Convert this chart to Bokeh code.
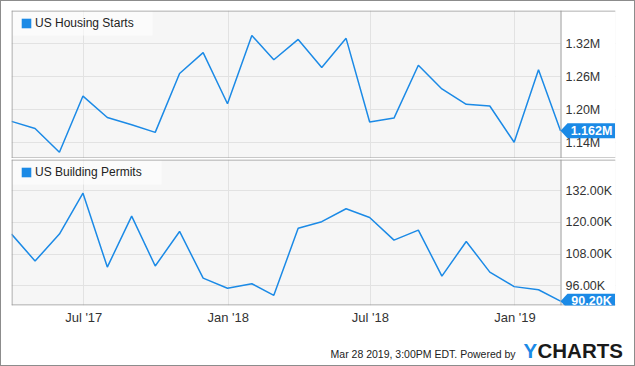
import datetime as dt
from bokeh.plotting import figure
from bokeh.layouts import column
from bokeh.models import (Range1d, FixedTicker, Grid, DatetimeTickFormatter, PrintfTickFormatter,
                          Legend, LegendItem, PolyAnnotation, BoxAnnotation, Span, Label)
from bokeh.embed import file_html
from bokeh.resources import INLINE

# ---------------- data ----------------
months = ["2017-03-31", "2017-04-30", "2017-05-31", "2017-06-30", "2017-07-31", "2017-08-31",
          "2017-09-30", "2017-10-31", "2017-11-30", "2017-12-31", "2018-01-31", "2018-02-28",
          "2018-03-31", "2018-04-30", "2018-05-31", "2018-06-30", "2018-07-31", "2018-08-31",
          "2018-09-30", "2018-10-31", "2018-11-30", "2018-12-31", "2019-01-31", "2019-02-28"]
housing_starts_m = [1.179, 1.166, 1.123, 1.225, 1.186, 1.173, 1.159, 1.266, 1.304, 1.211, 1.335, 1.291,
                    1.328, 1.277, 1.330, 1.178, 1.185, 1.281, 1.238, 1.210, 1.207, 1.141, 1.273, 1.162]
building_permits_k = [115.6, 105.4, 115.6, 131.1, 103.1, 122.4, 103.5, 116.6, 98.9, 95.1, 96.8, 92.4,
                      117.8, 120.3, 125.2, 121.9, 113.3, 117.1, 99.7, 112.8, 101.2, 95.7, 94.5, 90.2]
x_tick_dates = ["2017-07-01", "2018-01-01", "2018-07-01", "2019-01-01"]
starts_ticks = [1.14, 1.20, 1.26, 1.32]
permits_ticks = [96, 108, 120, 132]
starts_last_label = "1.162M"
permits_last_label = "90.20K"
series_names = ["US Housing Starts", "US Building Permits"]
footer_text = "Mar 28 2019, 3:00PM EDT.  Powered by"
logo_parts = ["Y", "CHARTS"]

# ---------------- style / layout ----------------
BLUE = "#1b8ae6"
FONT = "Liberation Sans"
EDGE = "#9a9a9a"
W = 633               # inside the 1px outer border
LEFT_B = 10
DATA_W = 549          # pixels covered by the data span
FRAME_W = 604         # data span + area under the value labels
EPOCH = dt.datetime(1970, 1, 1)


def ms(s):
    return (dt.datetime.strptime(s, "%Y-%m-%d") - EPOCH).total_seconds() * 1000.0


xs = [ms(m) for m in months]
x_start, x_end = xs[0], xs[-1]
px_x = (x_end - x_start) / DATA_W
x_frame_end = x_start + FRAME_W * px_x
tick_ms = [ms(d) for d in x_tick_dates]


def make_panel(height, top_b, bot_b, y0, y1, vals, yticks, fmt, name, last_label, show_x, box_w):
    frame_h = height - top_b - bot_b
    px_y = (y1 - y0) / frame_h
    p = figure(width=W, height=height, x_axis_type="datetime",
               x_range=Range1d(x_start, x_frame_end), y_range=Range1d(y0, y1),
               y_axis_location="right", x_axis_location="below" if show_x else None,
               toolbar_location=None, output_backend="svg", title=None,
               min_border_left=LEFT_B, min_border_right=W - LEFT_B - FRAME_W,
               min_border_top=top_b, min_border_bottom=bot_b)
    p.frame_align = False
    p.background_fill_color = "#f6f6f6"
    p.border_fill_color = "white"
    p.outline_line_color = None
    p.grid.visible = False
    p.add_layout(Grid(dimension=0, ticker=FixedTicker(ticks=tick_ms),
                      grid_line_color="#e2e2e2", grid_line_width=1))
    p.add_layout(Grid(dimension=1, ticker=FixedTicker(ticks=yticks),
                      grid_line_color="#e2e2e2", grid_line_width=1))
    # white area under the value labels
    p.add_layout(BoxAnnotation(left=x_end, fill_color="white", fill_alpha=1,
                               line_color=None, level="underlay"))
    # translucent legend backdrop
    p.add_layout(BoxAnnotation(left=x_start, right=x_start + box_w * px_x,
                               top=y1, bottom=y1 - 25 * px_y,
                               fill_color="white", fill_alpha=0.6, line_color=None, level="underlay"))

    ya = p.yaxis[0]
    ya.ticker = FixedTicker(ticks=yticks)
    ya.formatter = PrintfTickFormatter(format=fmt)
    ya.axis_line_color = None
    ya.major_tick_line_color = None
    ya.minor_tick_line_color = None
    ya.major_tick_in = 0
    ya.major_tick_out = 0
    ya.major_label_standoff = -(FRAME_W - DATA_W) + 5
    ya.major_label_text_font = FONT
    ya.major_label_text_font_size = "12.5px"
    ya.major_label_text_color = "#333333"

    if show_x:
        xa = p.xaxis[0]
        xa.ticker = FixedTicker(ticks=tick_ms)
        xa.formatter = DatetimeTickFormatter(days="%b '%y", months="%b '%y", years="%b '%y")
        xa.axis_line_color = None
        xa.major_tick_line_color = None
        xa.minor_tick_line_color = None
        xa.major_tick_in = 0
        xa.major_tick_out = 0
        xa.major_label_standoff = 4
        xa.major_label_text_font = FONT
        xa.major_label_text_font_size = "13px"
        xa.major_label_text_color = "#333333"

    p.line(xs, vals, line_color=BLUE, line_width=1.5)

    # frame edges
    p.add_layout(Span(dimension="width", location=y1 - 0.5 * px_y, line_color=EDGE, line_width=1))
    p.add_layout(Span(dimension="width", location=y0 + 0.5 * px_y, line_color=EDGE, line_width=1))
    p.add_layout(Span(dimension="height", location=x_start + 0.5 * px_x, line_color=EDGE, line_width=1))
    p.add_layout(Span(dimension="height", location=x_end + 0.5 * px_x, line_color=EDGE, line_width=1))

    # legend with square swatch (zero-size rect renderer only supplies the swatch style)
    sw = p.rect(x=[xs[-1]], y=[vals[-1]], width=0, height=0, fill_color=BLUE, line_color=None)
    leg = Legend(items=[LegendItem(label=name, renderers=[sw])], location=(9, frame_h - 19.5),
                 padding=0, margin=0, spacing=0, glyph_width=12, glyph_height=12,
                 label_standoff=3, label_text_font=FONT, label_text_font_size="12px",
                 label_text_color="#222222", label_height=12,
                 background_fill_alpha=0, border_line_color=None)
    p.add_layout(leg)

    # last value tag
    v = vals[-1]
    hh = 7.5 * px_y
    p.add_layout(PolyAnnotation(
        xs=[x_end, x_end + 7 * px_x, x_end + 54.5 * px_x, x_end + 54.5 * px_x, x_end + 7 * px_x],
        ys=[v, v + hh, v + hh, v - hh, v - hh],
        fill_color=BLUE, fill_alpha=1, line_color=None))
    p.add_layout(Label(x=x_end, y=v, x_offset=31, y_offset=0, text=last_label,
                       text_align="center", text_baseline="middle", text_color="white",
                       text_font=FONT, text_font_style="bold", text_font_size="12.5px"))
    return p


top = make_panel(157, 9, 0, 1.1115, 1.3806, housing_starts_m, starts_ticks, "%.2fM",
                 series_names[0], starts_last_label, False, 141)
bot = make_panel(172, 1, 25, 88.55, 143.85, building_permits_k, permits_ticks, "%.2fK",
                 series_names[1], permits_last_label, True, 150)

# footer strip
FH = 35
foot = figure(width=W, height=FH, x_range=Range1d(0, W), y_range=Range1d(0, FH),
              x_axis_location=None, y_axis_location=None, toolbar_location=None,
              output_backend="svg", title=None, min_border=0,
              min_border_left=0, min_border_right=0, min_border_top=0, min_border_bottom=0)
foot.frame_align = False
foot.grid.visible = False
foot.outline_line_color = None
foot.background_fill_color = "white"
foot.border_fill_color = "white"
foot.add_layout(Label(x=517, y=11.5, x_units="screen", y_units="screen", text=footer_text,
                      text_align="right", text_baseline="middle",
                      text_font=FONT, text_font_size="10.5px", text_color="#222222"))
foot.add_layout(Label(x=522, y=15.5, x_units="screen", y_units="screen", text=logo_parts[0],
                      text_align="left", text_baseline="middle",
                      text_font=FONT, text_font_style="bold", text_font_size="20.5px", text_color=BLUE))
foot.add_layout(Label(x=536, y=15.5, x_units="screen", y_units="screen", text=logo_parts[1],
                      text_align="left", text_baseline="middle",
                      text_font=FONT, text_font_style="bold", text_font_size="20.5px", text_color="#1a1a1a"))

layout = column(top, bot, foot, spacing=0,
                styles={"border": "1px solid #8c8c8c", "box-sizing": "content-box"})
open("out.html", "w").write(file_html(layout, INLINE))
